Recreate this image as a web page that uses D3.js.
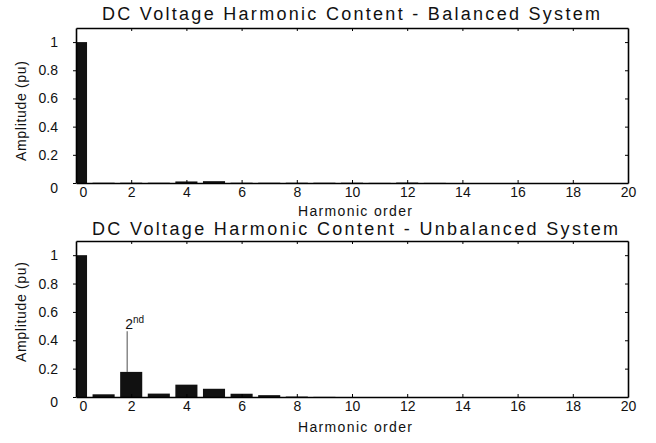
<!DOCTYPE html>
<html>
<head>
<meta charset="utf-8">
<script src="https://cdn.jsdelivr.net/npm/d3@7"></script>
<style>
  html, body { margin: 0; padding: 0; background: #fff; }
  svg { display: block; font-family: "Liberation Sans", Arial, Helvetica, sans-serif; }
</style>
</head>
<body>
<svg id="chart" width="656" height="443"></svg>
<script>
// ---- data ----
const harmonicOrders = d3.range(0, 21);
const balancedValues = [1.0, 0.002, 0.002, 0.002, 0.011, 0.013, 0.002, 0.002, 0.002, 0.002, 0.002, 0.001, 0.003, 0.001, 0, 0, 0, 0, 0, 0, 0];
const unbalancedValues = [1.0, 0.019, 0.177, 0.024, 0.087, 0.058, 0.023, 0.013, 0.003, 0.001, 0, 0, 0, 0, 0, 0, 0, 0, 0, 0, 0];
const xTickValues = [0, 2, 4, 6, 8, 10, 12, 14, 16, 18, 20];
const yTickValues = [0, 0.2, 0.4, 0.6, 0.8, 1];
const titles = ["DC Voltage Harmonic Content - Balanced System", "DC Voltage Harmonic Content - Unbalanced System"];
const xLabel = "Harmonic order";
const yLabel = "Amplitude (pu)";
const annotationText = { base: "2", sup: "nd", order: 2, at: 0.47 };

const svg = d3.select("#chart");
const FONT = "14px";

const panels = [
  { values: balancedValues, title: titles[0], top: 28, bottom: 183, titleY: 20, titleLen: 498, titleX: 351,
    xLabelY: 216, yLabelC: 111 },
  { values: unbalancedValues, title: titles[1], top: 241, bottom: 397, titleY: 235, titleLen: 526, titleX: 355,
    xLabelY: 432, yLabelC: 312, annotate: true }
];
const left = 76, right = 628;

panels.forEach((p, i) => {
  const x = d3.scaleLinear().domain([0, 20]).range([left, right]);
  const y = d3.scaleLinear().domain([0, 1.1]).range([p.bottom, p.top]);
  const g = svg.append("g");

  const clipId = "clip" + i;
  svg.append("clipPath").attr("id", clipId).append("rect")
    .attr("x", left).attr("y", p.top).attr("width", right - left).attr("height", p.bottom - p.top);

  const bw = x(0.8) - x(0);
  g.append("g").attr("clip-path", `url(#${clipId})`)
    .selectAll("rect").data(harmonicOrders.map((h, k) => ({ h, v: p.values[k] })).filter(d => d.v > 0))
    .join("rect")
    .attr("x", d => x(d.h) - bw / 2)
    .attr("y", d => y(d.v))
    .attr("width", bw)
    .attr("height", d => y(0) - y(d.v))
    .attr("fill", "#111");

  // bottom axis
  const xb = g.append("g").attr("transform", `translate(0,${p.bottom})`)
    .call(d3.axisBottom(x).tickValues(xTickValues).tickSize(-3).tickSizeOuter(0).tickPadding(i === 0 ? 4.5 : 3.8).tickFormat(d3.format("d")));
  // top axis
  const xt = g.append("g").attr("transform", `translate(0,${p.top})`)
    .call(d3.axisTop(x).tickValues(xTickValues).tickSize(-3).tickSizeOuter(0).tickFormat(""));
  // left axis
  const yl = g.append("g").attr("transform", `translate(${left},0)`)
    .call(d3.axisLeft(y).tickValues(yTickValues).tickSize(3).tickSizeOuter(0).tickPadding(15).tickFormat(d => d === 0 ? "0" : d3.format("~g")(d)));
  // right axis
  const yr = g.append("g").attr("transform", `translate(${right},0)`)
    .call(d3.axisRight(y).tickValues(yTickValues).tickSize(-3).tickSizeOuter(0).tickFormat(""));

  [xb, xt, yl, yr].forEach(a => {
    a.select(".domain").attr("stroke", "#000").attr("stroke-width", 1.6);
    a.selectAll(".tick line").attr("stroke", "#000").attr("stroke-width", 1);
    a.selectAll("text").attr("font-size", FONT).attr("fill", "#111")
      .attr("font-family", "'Liberation Sans', Arial, sans-serif");
  });
  // first x label sits slightly right of its tick; zero y label slightly below the axis
  xb.selectAll(".tick text").filter(d => d === 0).attr("dx", 7);
  yl.selectAll(".tick text").filter(d => d === 0).attr("transform", "translate(0,5)");
  xt.selectAll(".tick line").filter(d => d === 0 || d === 20).remove();
  xb.selectAll(".tick line").filter(d => d === 0 || d === 20).remove();

  // title
  g.append("text").attr("x", p.titleX).attr("y", p.titleY).attr("text-anchor", "middle")
    .attr("font-size", "18px").attr("fill", "#111")
    .attr("textLength", p.titleLen).attr("lengthAdjust", "spacing")
    .text(p.title);
  // x label
  g.append("text").attr("x", 355).attr("y", p.xLabelY).attr("text-anchor", "middle")
    .attr("font-size", FONT).attr("fill", "#111")
    .attr("textLength", 114).attr("lengthAdjust", "spacing")
    .text(xLabel);
  // y label
  g.append("text").attr("transform", `translate(26,${p.yLabelC}) rotate(-90)`)
    .attr("text-anchor", "middle").attr("font-size", FONT).attr("fill", "#111")
    .attr("textLength", 100).attr("lengthAdjust", "spacing")
    .text(yLabel);

  if (p.annotate) {
    const ax = x(annotationText.order) - 4;
    g.append("line").attr("x1", ax).attr("x2", ax)
      .attr("y1", y(annotationText.at) + 1).attr("y2", y(p.values[annotationText.order]))
      .attr("stroke", "#777").attr("stroke-width", 1.3);
    const t = g.append("text").attr("x", ax - 2).attr("y", y(annotationText.at) - 1)
      .attr("font-size", FONT).attr("fill", "#111");
    t.append("tspan").text(annotationText.base);
    t.append("tspan").attr("font-size", "10px").attr("dy", "-6").text(annotationText.sup);
  }
});
</script>
</body>
</html>
